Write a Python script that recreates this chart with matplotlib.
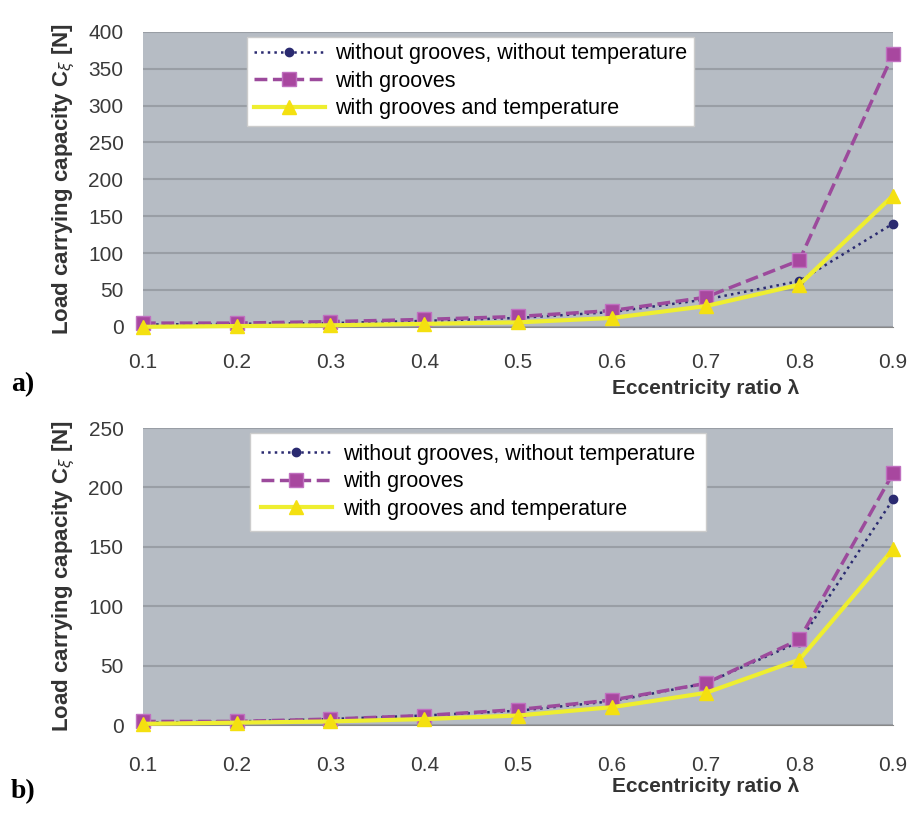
import matplotlib
matplotlib.use("Agg")
import matplotlib.pyplot as plt

# eccentricity ratios
ecc = [0.1, 0.2, 0.3, 0.4, 0.5, 0.6, 0.7, 0.8, 0.9]

# panel a)
a_plain = [3, 4, 5, 8, 12, 20, 37, 62, 140]
a_grooves = [5, 5, 7, 10, 14, 22, 40, 90, 370]
a_temp = [0, 1, 2, 4, 6, 12, 28, 57, 178]

# panel b)
b_plain = [2, 3, 5, 8, 12, 20, 35, 70, 190]
b_grooves = [3, 3, 5, 8, 13, 21, 35, 72, 212]
b_temp = [1, 2, 3, 5, 8, 15, 27, 55, 148]

labels = ["without grooves, without temperature", "with grooves", "with grooves and temperature"]
ylabel = "Load carrying capacity C$_\\xi$ [N]"
xlabel = "Eccentricity ratio \u03bb"

fig = plt.figure(figsize=(9.16, 8.17), dpi=100)
plt.rcParams['font.family'] = ['Liberation Sans', 'DejaVu Sans']


def panel(rect, plain, grooves, temp, ymax, legend_box, xpad, bpad):
    ax = fig.add_axes(rect)
    ax.set_facecolor("#b6bcc4")
    ax.plot(ecc, plain, ':', color="#2a2a70", lw=1.8, marker='o', ms=6,
            label=labels[0], clip_on=False, zorder=3)
    ax.plot(ecc, grooves, '--', color="#9c4a9c", lw=2.5, marker='s', ms=10,
            mfc="#a8479f", mec="#c070c0", label=labels[1], clip_on=False, zorder=4)
    ax.plot(ecc, temp, '-', color="#eeee30", lw=3, marker='^', ms=10,
            mfc="#f4e010", mec="#f4e010", label=labels[2], clip_on=False, zorder=5)
    ax.set_xlim(0.1, 0.9)
    ax.set_ylim(0, ymax)
    ax.set_xticks(ecc)
    ax.set_xticklabels([f"{v:.1f}" for v in ecc])
    ax.set_yticks(range(0, ymax + 1, 50))
    ax.yaxis.grid(True, color="#999ea5", lw=1.5)
    ax.set_axisbelow(True)
    for s in ["top", "right", "left"]:
        ax.spines[s].set_visible(False)
    ax.spines["bottom"].set_color("#888888")
    ax.tick_params(length=0, labelsize=15, labelcolor="#3a3a3a")
    ax.tick_params(axis="x", pad=xpad)
    ax.tick_params(axis="y", pad=14)
    ax.set_ylabel(ylabel, fontsize=16, fontweight="bold", color="#333333", labelpad=8)
    leg = ax.legend(loc="upper left", bbox_to_anchor=legend_box, fontsize=15.5,
                    frameon=True, fancybox=False, handlelength=3.3,
                    borderpad=bpad, labelspacing=0.3, handletextpad=0.5,
                    borderaxespad=0)
    leg.get_frame().set_edgecolor("#cccccc")
    leg.get_frame().set_alpha(1)
    return ax


ax1 = panel([0.156, 0.600, 0.819, 0.361], a_plain, a_grooves, a_temp, 400, (0.139, 0.983), 19, 0.3)
ax2 = panel([0.156, 0.1126, 0.819, 0.3635], b_plain, b_grooves, b_temp, 250, (0.143, 0.983), 22, 0.5)

fig.text(0.77, 1 - 388 / 817, xlabel, ha="center", va="center", fontsize=15,
         fontweight="bold", color="#333333")
fig.text(0.77, 1 - 787 / 817, xlabel, ha="center", va="center", fontsize=15,
         fontweight="bold", color="#333333")
fig.text(0.012, 1 - 385 / 817, "a)", ha="left", va="center", fontsize=20,
         fontweight="bold", family=["Liberation Serif", "DejaVu Serif"])
fig.text(0.012, 1 - 792 / 817, "b)", ha="left", va="center", fontsize=20,
         fontweight="bold", family=["Liberation Serif", "DejaVu Serif"])

fig.savefig("out.png", dpi=100)
